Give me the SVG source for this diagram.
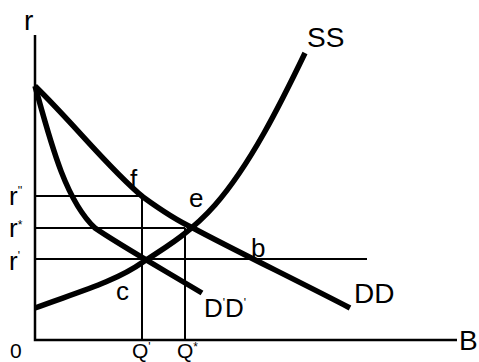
<svg xmlns="http://www.w3.org/2000/svg" width="479" height="362" viewBox="0 0 479 362">
<style>
.ax{stroke:#000;stroke-width:2.5;fill:none}
.th{stroke:#000;stroke-width:2;fill:none}
.cv{stroke:#000;stroke-width:5.5;fill:none;stroke-linecap:butt;stroke-linejoin:round}
text{font-family:"Liberation Sans",Arial,sans-serif;fill:#000}
.lb{font-size:28px}
.sm{font-size:26px}
.bt{font-size:21px}
.pr{font-size:12px}
</style>
<rect width="479" height="362" fill="#fff"/>
<g id="axes">
<path class="ax" d="M35,35 V340 H457"/>
<text class="lb" x="24" y="30">r</text>
<text class="bt" x="10" y="358">0</text>
<text class="lb" x="459" y="350">B</text>
</g>
<g id="connectors">
<path class="th" d="M35,196 H142 M142,196 V340"/>
<path class="th" d="M35,228 H185 M185,228 V340"/>
<path class="th" d="M35,259 H367"/>
</g>
<g id="SS">
<path class="cv" d="M35,308 C75,293 115,282 143,262 C170,245 193,230 215,205 C250,165 280,105 305,53"/>
<text class="lb" x="307" y="47">SS</text>
</g>
<g id="DD">
<path class="cv" d="M35,86 C75,125 110,170 143,197 C165,213 180,222 193,228 C230,248 300,282 350,308"/>
<text class="lb" x="354" y="303">DD</text>
</g>
<g id="DpDp">
<path class="cv" d="M35,86 C50,140 65,200 95,228 C115,242 150,262 202,293"/>
<text class="sm" x="204" y="317">D<tspan class="pr" dy="-10">'</tspan><tspan dy="10">D</tspan><tspan class="pr" dy="-10">'</tspan></text>
</g>
<g id="points">
<text class="sm" x="130" y="188">f</text>
<text class="sm" x="189" y="207">e</text>
<text class="sm" x="251" y="257">b</text>
<text class="sm" x="116" y="300">c</text>
</g>
<g id="rlabels">
<text class="sm" x="9" y="205">r<tspan class="pr" dy="-10">''</tspan></text>
<text class="sm" x="9" y="237">r<tspan class="pr" dy="-8">*</tspan></text>
<text class="sm" x="9" y="270">r<tspan class="pr" dy="-10">'</tspan></text>
</g>
<g id="qlabels">
<text class="bt" x="132" y="358">Q<tspan class="pr" dy="-7">'</tspan></text>
<text class="bt" x="177" y="358">Q<tspan class="pr" dy="-7">*</tspan></text>
</g>
</svg>
